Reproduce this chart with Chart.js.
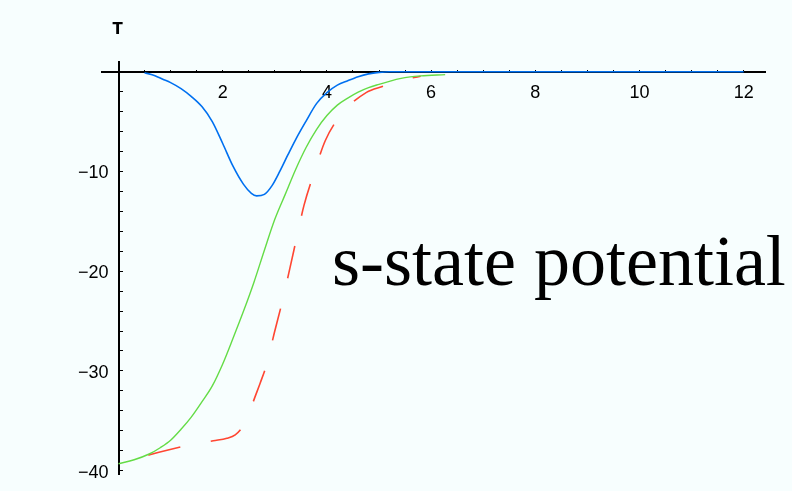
<!DOCTYPE html>
<html lang="en">
<head>
    <script src="https://cdn.jsdelivr.net/npm/chart.js@4.4.1/dist/chart.umd.min.js"></script>
    <style>
        html, body { margin: 0; padding: 0; background: #f7fefe; }
        #wrap { width: 792px; height: 491px; }
    </style>
</head>

<body>
<div id="wrap"><canvas id="myChart"></canvas></div>
<script>
    // blue curve
    const blueX = [0.5, 0.7, 0.85, 1.0, 1.2, 1.4, 1.6, 1.8, 2.0, 2.2, 2.4, 2.55, 2.65, 2.8, 2.95, 3.1, 3.25, 3.4, 3.6, 3.8, 4.0, 4.2, 4.4, 4.6, 4.8, 5.0, 5.2, 12];
    const blueY = [-0.1, -0.4, -0.75, -1.1, -1.7, -2.5, -3.5, -5.0, -7.2, -9.5, -11.3, -12.2, -12.45, -12.3, -11.4, -9.95, -8.35, -6.8, -4.95, -3.2, -2.1, -1.35, -0.9, -0.5, -0.22, -0.07, 0, 0];

    // green curve
    const greenX = [0, 0.3, 0.6, 0.8, 1.0, 1.2, 1.4, 1.6, 1.8, 2.0, 2.2, 2.4, 2.6, 2.8, 3.0, 3.2, 3.4, 3.6, 3.8, 4.0, 4.2, 4.4, 4.6, 4.8, 5.0, 5.2, 5.4, 5.6, 5.8, 6.27];
    const greenY = [-39.3, -38.9, -38.3, -37.7, -36.95, -35.85, -34.6, -33.1, -31.5, -29.3, -26.7, -24.0, -21.1, -17.9, -14.8, -12.3, -9.8, -7.6, -5.8, -4.4, -3.35, -2.65, -2.05, -1.6, -1.27, -0.97, -0.7, -0.52, -0.42, -0.3];

    // red dashed curve
    const redX = [0, 0.6, 1.21, 1.82, 2.08, 2.24, 2.38, 2.5, 2.62, 2.72, 2.84, 2.99, 3.15, 3.29, 3.43, 3.56, 3.77, 3.97, 4.31, 4.76, 5.08, 5.34, 5.8];
    const redY = [-39.3, -38.4, -37.6, -37.0, -36.75, -36.4, -35.6, -34.3, -32.6, -31.2, -29.4, -26.2, -22.9, -19.7, -16.4, -13.4, -9.9, -6.9, -4.07, -2.07, -1.45, -0.95, -0.45];

    const xLabels = [2, 4, 6, 8, 10, 12];
    const yLabels = [-10, -20, -30, -40];
    const caption = 's-state potential';

    const pts = (xs, ys) => xs.map((x, i) => ({x: x, y: ys[i]}));

    const bgPlugin = {
        id: 'bg',
        beforeDraw: chart => {
            const ctx = chart.ctx;
            ctx.save();
            ctx.fillStyle = '#f7fefe';
            ctx.fillRect(0, 0, chart.width, chart.height);
            ctx.restore();
        }
    };

    const textPlugin = {
        id: 'caption',
        afterDraw: chart => {
            const ctx = chart.ctx;
            ctx.save();
            ctx.fillStyle = '#000';
            ctx.font = '72px "Liberation Serif"';
            ctx.textBaseline = 'alphabetic';
            ctx.fillText(caption, 332, 285);
            ctx.font = 'bold 15px "DejaVu Sans"';
            ctx.textAlign = 'center';
            ctx.textBaseline = 'top';
            ctx.fillText('T', chart.scales.x.getPixelForValue(0) - 1, 23);
            ctx.restore();
        }
    };

    const config = {
        type: 'scatter',
        data: {
          datasets: [
            {
                label: 'blue',
                borderColor: 'rgb(0, 112, 240)',
                borderWidth: 1.6,
                data: pts(blueX, blueY)
            },
            {
                label: 'green',
                borderColor: 'rgb(100, 220, 70)',
                borderWidth: 1.4,
                data: pts(greenX, greenY)
            },
            {
                label: 'red',
                borderColor: 'rgb(255, 70, 50)',
                borderWidth: 1.6,
                borderDash: [33, 31],
                borderDashOffset: 33,
                data: pts(redX, redY)
            },
          ]
        },
        options: {
          responsive: true,
          maintainAspectRatio: false,
          animation: false,
          showLine: true,
          elements: {
            point: { radius: 0, hoverRadius: 0 },
            line: { cubicInterpolationMode: 'monotone' }
          },
          layout: { padding: { left: 102, right: 27, top: 62, bottom: 17 } },
          plugins: {
            legend: { display: false },
            tooltip: { enabled: false }
          },
          scales: {
            x: {
              type: 'linear',
              position: { y: 0 },
              min: -0.317,
              max: 12.409,
              afterFit: s => { s.height = 0; },
              border: { display: true, color: '#000', width: 2 },
              grid: { drawOnChartArea: false, color: '#000', lineWidth: 1, tickLength: -3 },
              ticks: {
                stepSize: 0.5,
                includeBounds: false,
                autoSkip: false,
                maxRotation: 0,
                padding: 14,
                color: '#000',
                font: { family: 'Liberation Sans', size: 18 },
                callback: v => xLabels.includes(v) ? String(v) : ''
              }
            },
            y: {
              type: 'linear',
              position: { x: 0 },
              min: -40.33,
              max: 0.97,
              afterFit: s => { s.width = 0; },
              border: { display: true, color: '#000', width: 2 },
              grid: { drawOnChartArea: false, color: '#000', lineWidth: 1, tickLength: -5 },
              ticks: {
                stepSize: 2,
                includeBounds: false,
                autoSkip: false,
                labelOffset: 2,
                color: '#000',
                font: { family: 'Liberation Sans', size: 18 },
                // the centred axis puts labels flush with the line, so pad with spaces
                callback: v => yLabels.includes(v) ? '\u2212' + Math.abs(v) + '  ' : ''
              }
            }
          }
        },
        plugins: [bgPlugin, textPlugin]
    };

    const myChart = new Chart(
        document.getElementById('myChart'),
        config
    )
</script>
</body>
</html>
